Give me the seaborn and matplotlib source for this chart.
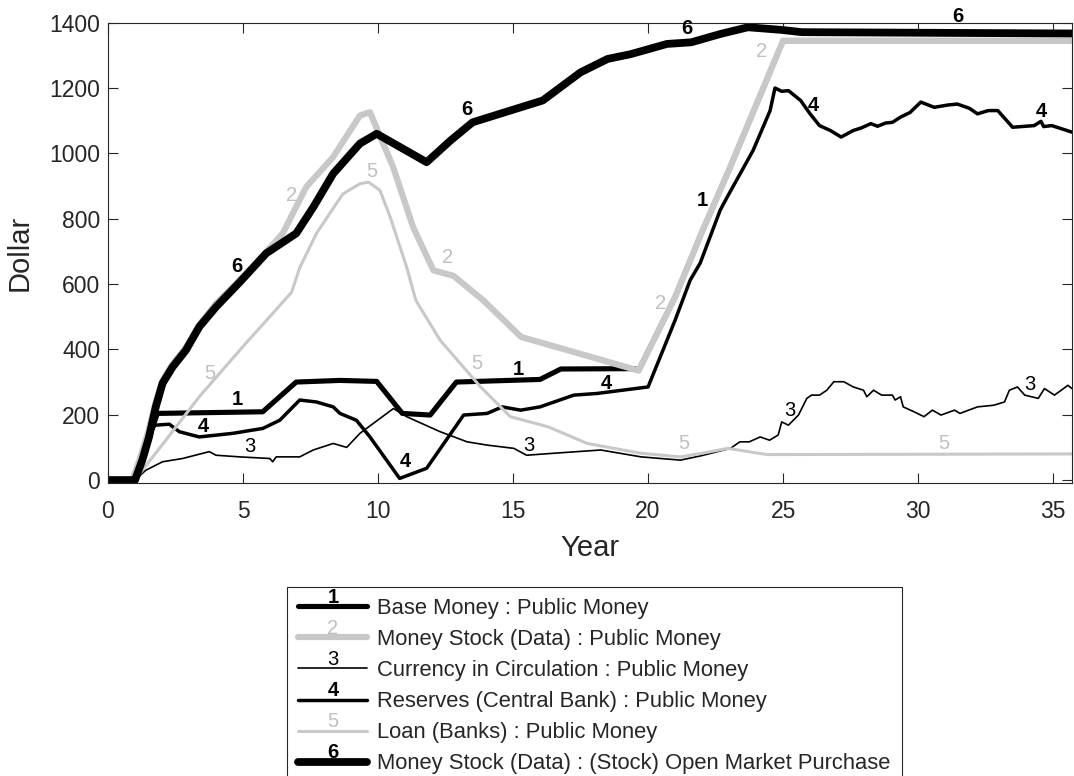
import matplotlib
matplotlib.use("Agg")
import matplotlib.pyplot as plt
import numpy as np
import seaborn as sns
from matplotlib.legend_handler import HandlerLine2D
from matplotlib.text import Text

# ---- data (year, dollar) ----
base_years = [0, 1.0, 1.27, 1.52, 1.83, 5.73, 6.97, 8.59, 9.95, 10.9, 11.93, 12.9,
              16.0, 16.77, 19.5, 19.65, 21.0, 22.0, 23.0, 25.0, 35.7]
base_money = [0, 0, 61, 132, 204, 209, 300, 305, 302, 204, 199, 300,
              308, 340, 341, 335, 560, 760, 950, 1345, 1345]

stock_years = [0, 0.9, 1.2, 1.5, 1.77, 2.02, 2.39, 2.88, 3.38, 4.0, 4.87, 5.5, 6.47,
               7.34, 8.33, 9.33, 9.7, 10.56, 11.3, 12.05, 12.8, 13.9, 15.3, 17.25,
               19.65, 21.0, 22.0, 23.0, 25.0, 35.7]
money_stock = [0, 0, 70, 150, 240, 305, 355, 405, 475, 540, 612, 665, 755,
               897, 988, 1116, 1126, 958, 774, 642, 625, 550, 438, 392,
               335, 560, 760, 950, 1345, 1345]

currency_years = [0, 1.0, 1.4, 2.02, 2.76, 3.75, 4.0, 4.87, 5.99, 6.1, 6.23, 7.1, 7.6,
                  8.34, 8.84, 9.33, 10.57, 11.06, 12.3, 13.3, 14.04, 15.03, 15.5, 16.5,
                  18.25, 19.74, 21.2, 22.0, 23.05, 23.4, 23.75, 24.15, 24.5, 24.82,
                  24.95, 25.2, 25.57, 25.88, 26.05, 26.35, 26.62, 26.88, 27.25, 27.6,
                  27.98, 28.1, 28.35, 28.65, 29.05, 29.15, 29.35, 29.45, 29.85, 30.22,
                  30.53, 30.85, 31.35, 31.55, 32.2, 32.8, 33.2, 33.38, 33.68, 33.95,
                  34.45, 34.68, 35.05, 35.55, 35.7]
currency = [0, 0, 30, 56, 66, 87, 76, 71, 66, 56, 71, 71, 92,
            112, 100, 143, 219, 194, 148, 117, 107, 97, 76, 82,
            92, 71, 61, 75, 97, 117, 117, 132, 122, 138,
            178, 168, 199, 250, 260, 260, 275, 301, 301, 285,
            275, 255, 275, 260, 260, 245, 255, 224, 209, 194,
            214, 199, 214, 204, 224, 229, 239, 275, 285, 260,
            250, 280, 260, 290, 280]

reserve_years = [0, 1.0, 1.3, 1.55, 1.75, 2.27, 2.64, 3.38, 4.62, 5.73, 6.36, 7.1, 7.72,
                 8.34, 8.59, 9.2, 9.7, 10.8, 11.8, 13.17, 14.04, 14.6, 15.28, 16.0,
                 17.25, 18.1, 20.0, 21.0, 21.56, 21.93, 22.67, 22.93, 23.89, 24.52,
                 24.7, 24.95, 25.2, 25.65, 26.0, 26.35, 26.75, 27.15, 27.6, 27.9,
                 28.25, 28.5, 28.8, 29.05, 29.35, 29.7, 30.1, 30.6, 31.1, 31.45,
                 31.9, 32.2, 32.6, 32.95, 33.5, 34.3, 34.55, 34.65, 34.95, 35.7]
reserves = [0, 0, 70, 145, 168, 171, 148, 132, 143, 158, 183, 245, 239,
            224, 204, 183, 132, 5, 36, 199, 204, 224, 214, 224,
            260, 265, 285, 489, 612, 664, 826, 866, 1009, 1131,
            1200, 1190, 1192, 1162, 1121, 1085, 1070, 1050, 1070, 1078,
            1091, 1083, 1093, 1095, 1111, 1125, 1157, 1141, 1148, 1151,
            1138, 1121, 1131, 1131, 1080, 1085, 1098, 1082, 1085, 1065]

loan_years = [0, 1.0, 1.27, 2.14, 3.38, 4.99, 6.1, 6.8, 7.1, 7.72, 8.7, 9.33, 9.65,
              10.07, 10.45, 11.06, 11.4, 12.3, 13.8, 14.9, 16.3, 17.75, 19.74,
              21.2, 22.0, 22.96, 24.4, 35.7]
loans = [0, 0, 30, 122, 255, 408, 510, 575, 650, 755, 876, 907, 912,
         887, 805, 652, 550, 428, 285, 194, 163, 112, 82,
         71, 82, 97, 78, 80]

omp_years = [0, 1.0, 1.27, 1.52, 1.77, 2.02, 2.39, 2.88, 3.38, 4.0, 4.87, 5.86, 6.97,
             7.6, 8.34, 9.33, 9.95, 11.8, 12.68, 13.5, 16.1, 17.5, 18.5, 19.37,
             20.7, 21.6, 22.7, 23.7, 24.94, 25.7, 35.7]
omp_stock = [0, 0, 61, 132, 224, 296, 346, 397, 469, 530, 605, 694, 755,
             835, 938, 1030, 1060, 973, 1039, 1095, 1162, 1248, 1289, 1304,
             1335, 1340, 1366, 1386, 1378, 1371, 1367]

names = ["Base Money : Public Money",
         "Money Stock (Data) : Public Money",
         "Currency in Circulation : Public Money",
         "Reserves (Central Bank) : Public Money",
         "Loan (Banks) : Public Money",
         "Money Stock (Data) : (Stock) Open Market Purchase"]

# number labels placed along each curve (year, dollar)
label_years = [[4.78, 15.19, 22.0], [6.81, 12.56, 20.45, 24.21],
               [5.26, 15.57, 25.26, 34.15], [3.53, 11.0, 18.47, 26.12, 34.58],
               [3.78, 9.77, 13.65, 21.31, 30.94], [4.77, 13.28, 21.43, 31.49]]
label_values = [[248, 337, 857], [870, 680, 541, 1311],
                [102, 107, 214, 291], [163, 56, 296, 1148, 1128],
                [327, 944, 357, 112, 112], [653, 1133, 1383, 1418]]

BLACK = "#000000"
GRAY = "#c8c8c8"
INK = "#262626"

series = [
    (base_years, base_money, BLACK, 3.7, "bold"),
    (stock_years, money_stock, GRAY, 4.5, "normal"),
    (currency_years, currency, BLACK, 1.2, "normal"),
    (reserve_years, reserves, BLACK, 2.5, "bold"),
    (loan_years, loans, GRAY, 2.2, "normal"),
    (omp_years, omp_stock, BLACK, 5.6, "bold"),
]


class NumberedLine(HandlerLine2D):
    """Legend line with its series number written just above it."""

    def __init__(self, number, color, weight):
        super().__init__()
        self.number, self.color, self.weight = number, color, weight

    def create_artists(self, legend, orig_handle, xdescent, ydescent,
                       width, height, fontsize, trans):
        artists = super().create_artists(legend, orig_handle, xdescent, ydescent,
                                         width, height, fontsize, trans)
        ymid = (height - ydescent) / 2.0
        num = Text(width / 2 - xdescent, ymid + 6.5, self.number, ha="center",
                   va="center", fontsize=14.5, color=self.color,
                   fontweight=self.weight, transform=trans)
        artists.append(num)
        return artists


sns.set_theme(style="ticks")
plt.rcParams["font.family"] = ["Liberation Sans", "DejaVu Sans"]

fig = plt.figure(figsize=(10.74, 7.76), dpi=100)
ax = fig.add_axes([108 / 1074, 1 - 483 / 776, (1072 - 108) / 1074, (483 - 22.7) / 776])

handles = []
for i, (xs, ys, color, lw, weight) in enumerate(series):
    sns.lineplot(x=np.array(xs), y=np.array(ys), color=color, linewidth=lw,
                 ax=ax, estimator=None, sort=False)
    handles.append(ax.lines[-1])
    txt_color = "#c0c0c0" if color == GRAY else BLACK
    for lx, ly in zip(label_years[i], label_values[i]):
        ax.text(lx, ly, str(i + 1), ha="center", va="center", fontsize=14.5,
                color=txt_color, fontweight=weight, clip_on=False)

ax.set_xlim(0, 35.7)
ax.set_ylim(-9, 1400)
ax.set_xticks(range(0, 36, 5))
ax.set_yticks(range(0, 1401, 200))
ax.set_xlabel("Year", fontsize=21, color=INK, labelpad=8)
ax.set_ylabel("Dollar", fontsize=21, color=INK, labelpad=11)
ax.tick_params(direction="in", length=7, width=0.8, top=True, right=True,
               colors=INK, labelsize=16.5)
ax.tick_params(axis="x", pad=12)
ax.tick_params(axis="y", pad=5.5)
for sp in ax.spines.values():
    sp.set_color(INK)
    sp.set_linewidth(0.8)

handler_map = {}
for i, (h, s) in enumerate(zip(handles, series)):
    txt_color = "#c0c0c0" if s[2] == GRAY else BLACK
    handler_map[h] = NumberedLine(str(i + 1), txt_color, s[4])

leg = fig.legend(handles, names, handler_map=handler_map, loc="upper center",
                 bbox_to_anchor=(594.5 / 1074, 1 - 587 / 776),
                 bbox_transform=fig.transFigure, borderaxespad=0,
                 fontsize=15.8, handlelength=3.15, handletextpad=0.45,
                 labelspacing=0.46, borderpad=0.5, fancybox=False,
                 framealpha=1, edgecolor=INK)
leg.get_frame().set_linewidth(0.8)
for t in leg.get_texts():
    t.set_color(INK)

fig.savefig("out.png", dpi=100)
